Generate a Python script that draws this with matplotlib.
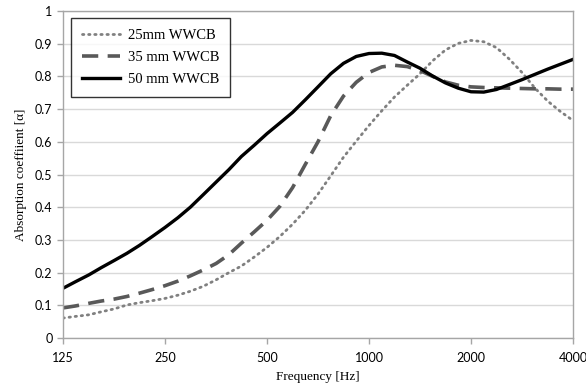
import matplotlib
matplotlib.use("Agg")
import matplotlib.pyplot as plt
from matplotlib.ticker import FixedLocator, FixedFormatter, NullLocator

freq = [125, 136, 149, 162, 177, 193, 210, 229, 250, 273, 297, 324, 354, 386,
        420, 459, 500, 545, 595, 648, 707, 771, 841, 917, 1000, 1091, 1189, 1297,
        1414, 1542, 1682, 1834, 2000, 2181, 2378, 2594, 2828, 3084, 3364, 3668, 4000]
wwcb_25 = [0.061, 0.066, 0.071, 0.080, 0.089, 0.101, 0.108, 0.114, 0.121, 0.131,
           0.143, 0.158, 0.178, 0.200, 0.220, 0.248, 0.277, 0.310, 0.348, 0.390,
           0.440, 0.496, 0.553, 0.602, 0.650, 0.695, 0.737, 0.773, 0.808, 0.848,
           0.881, 0.901, 0.910, 0.906, 0.888, 0.853, 0.812, 0.765, 0.725, 0.693, 0.665]
wwcb_35 = [0.092, 0.098, 0.106, 0.113, 0.119, 0.127, 0.137, 0.148, 0.160, 0.174,
           0.190, 0.208, 0.228, 0.255, 0.290, 0.325, 0.360, 0.402, 0.460, 0.530,
           0.600, 0.680, 0.740, 0.782, 0.812, 0.829, 0.834, 0.830, 0.818, 0.800,
           0.783, 0.773, 0.768, 0.766, 0.765, 0.764, 0.763, 0.762, 0.762, 0.761, 0.761]
wwcb_50 = [0.152, 0.172, 0.193, 0.215, 0.237, 0.259, 0.283, 0.310, 0.338, 0.368,
           0.400, 0.438, 0.477, 0.515, 0.555, 0.590, 0.625, 0.657, 0.690, 0.728,
           0.768, 0.808, 0.840, 0.861, 0.870, 0.871, 0.864, 0.844, 0.825, 0.801,
           0.780, 0.764, 0.753, 0.752, 0.760, 0.775, 0.790, 0.806, 0.822, 0.837, 0.852]
labels = ["25mm WWCB", "35 mm WWCB", "50 mm WWCB"]
xticks = [125, 250, 500, 1000, 2000, 4000]
xticklabels = ["125", "250", "500", "1000", "2000", "4000"]
yticks = [0, 0.1, 0.2, 0.3, 0.4, 0.5, 0.6, 0.7, 0.8, 0.9, 1]
yticklabels = ["0", "0.1", "0.2", "0.3", "0.4", "0.5", "0.6", "0.7", "0.8", "0.9", "1"]

fig = plt.figure(figsize=(5.86, 3.90), dpi=100)
ax = fig.add_axes([63/586, 1-338/390, (573-63)/586, (338-11)/390])

ax.plot(freq, wwcb_25, color="#808080", lw=2.0, linestyle=(0, (0.5, 1.7)),
        dash_capstyle="round", solid_joinstyle="round", label=labels[0])
ax.plot(freq, wwcb_35, color="#595959", lw=2.6, linestyle=(0, (4.5, 2.6)),
        solid_joinstyle="round", label=labels[1])
ax.plot(freq, wwcb_50, color="black", lw=2.4, solid_joinstyle="round",
        label=labels[2])

ax.set_xscale("log", base=2)
ax.set_xlim(125, 4000)
ax.set_ylim(0, 1)
ax.xaxis.set_major_locator(FixedLocator(xticks))
ax.xaxis.set_major_formatter(FixedFormatter(xticklabels))
ax.xaxis.set_minor_locator(NullLocator())
ax.yaxis.set_major_locator(FixedLocator(yticks))
ax.yaxis.set_major_formatter(FixedFormatter(yticklabels))

ax.grid(axis="y", color="#d9d9d9", lw=1.0)
ax.set_axisbelow(True)
for s in ax.spines.values():
    s.set_color("#a6a6a6")
    s.set_linewidth(1.0)
ax.tick_params(axis="both", colors="#a6a6a6", length=4, width=1.0, direction="out",
               labelcolor="black", labelsize=9)
ax.tick_params(axis="x", pad=6)
for t in ax.get_xticklabels() + ax.get_yticklabels():
    t.set_family("Lato")

ax.set_xlabel("Frequency [Hz]", family="Liberation Serif", fontsize=9.5, labelpad=5)
ax.set_ylabel("Absorption coeffiient [α]", family="Liberation Serif", fontsize=9.5, labelpad=6)

leg = ax.legend(loc="upper left", bbox_to_anchor=(8/510, 1 - 7.3/327), frameon=True,
                fancybox=False, edgecolor="black", handlelength=2.6,
                prop={"family": "Liberation Serif", "size": 10.5},
                borderpad=0.75, labelspacing=0.6, handletextpad=0.55,
                borderaxespad=0)
leg.get_frame().set_linewidth(1.0)

fig.savefig("out.png", dpi=100)
